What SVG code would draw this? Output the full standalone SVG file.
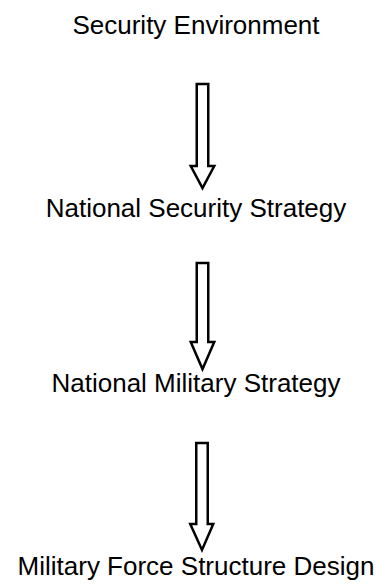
<svg xmlns="http://www.w3.org/2000/svg" width="376" height="586" viewBox="0 0 376 586">
<style>
.lbl{font-family:"Liberation Sans",Arial,sans-serif;font-size:26px;fill:#000;text-anchor:middle}
.arr{fill:#fff;stroke:#000;stroke-width:2.5;stroke-linejoin:miter}
</style>
<rect width="376" height="586" fill="#fff"/>
<g id="n-security-environment"><text class="lbl" x="196" y="34">Security Environment</text></g>
<g id="n-national-security-strategy"><text class="lbl" x="196" y="217">National Security Strategy</text></g>
<g id="n-national-military-strategy"><text class="lbl" x="196" y="392">National Military Strategy</text></g>
<g id="n-military-force-structure-design"><text class="lbl" x="196" y="575">Military Force Structure Design</text></g>
<g id="connectors">
<polygon class="arr" points="196.75,84 208.25,84 208.25,166 214.25,166 202.5,188 190.75,166 196.75,166"/>
<polygon class="arr" points="196.75,263 208.25,263 208.25,342 214.25,342 202.5,369 190.75,342 196.75,342"/>
<polygon class="arr" points="196.25,443 207.75,443 207.75,524 213.25,524 202,550 190.25,524 196.25,524"/>
</g>
</svg>
